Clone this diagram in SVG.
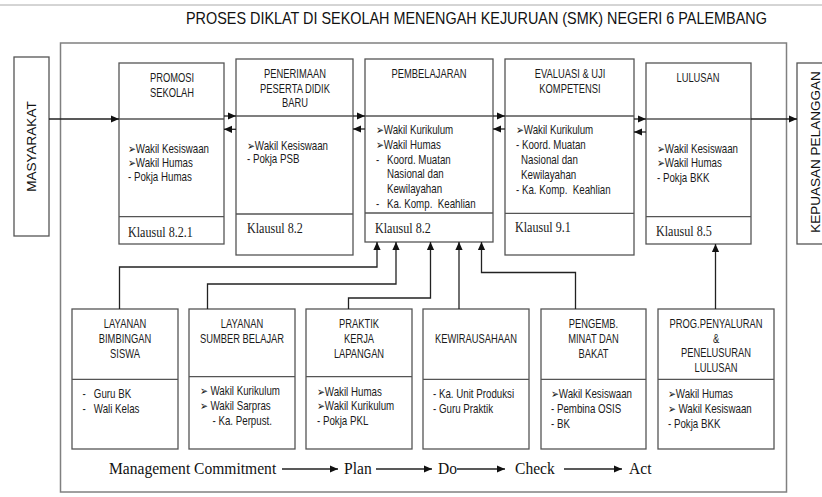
<svg xmlns="http://www.w3.org/2000/svg" width="822" height="497" viewBox="0 0 822 497">
<style>
.box{fill:#fff;stroke:#555;stroke-width:1.3}
.dv{stroke:#555;stroke-width:1.3}
.outer{fill:none;stroke:#808080;stroke-width:1.5}
.ln{fill:none;stroke:#222;stroke-width:1.3}
.s{font-family:"Liberation Sans",Arial,sans-serif;font-size:12px;fill:#1a1a1a}
.b{font-size:12.5px}
.c{text-anchor:middle}
.k{font-family:"Liberation Serif","Times New Roman",serif;font-size:13.6px;fill:#1a1a1a}
.f{font-family:"Liberation Serif","Times New Roman",serif;font-size:17.5px;fill:#111}
.v{font-family:"Liberation Sans",Arial,sans-serif;font-size:13.5px;fill:#111;text-anchor:middle}
.ttl{font-family:"Liberation Sans",Arial,sans-serif;font-size:16px;fill:#111}
</style>
<defs>
<marker id="ah" viewBox="0 0 10 10" refX="10" refY="5" markerWidth="8" markerHeight="8" markerUnits="userSpaceOnUse" orient="auto"><path d="M0,0.5 L10,5 L0,9.5z" fill="#111"/></marker>
</defs>
<rect width="822" height="497" fill="#fff"/>
<line x1="0" y1="5" x2="822" y2="5" stroke="#aaa" stroke-width="1"/>
<text class="ttl" transform="translate(186,24) scale(.9,1)">PROSES DIKLAT DI SEKOLAH MENENGAH KEJURUAN (SMK) NEGERI 6 PALEMBANG</text>
<rect class="outer" x="60.5" y="43" width="726" height="449"/>

<g id="masyarakat">
<rect class="box" x="14" y="57" width="35" height="179"/>
<text class="v" transform="translate(36,146.5) rotate(-90)">MASYARAKAT</text>
</g>
<g id="kepuasan">
<rect class="box" x="797" y="63" width="40" height="181"/>
<text class="v" transform="translate(820,152) rotate(-90)">KEPUASAN PELANGGAN</text>
</g>

<g id="promosi">
<rect class="box" x="119" y="63" width="105" height="181"/>
<line class="dv" x1="119" y1="119" x2="224" y2="119"/>
<line class="dv" x1="119" y1="216.7" x2="224" y2="216.7"/>
<text class="s c" transform="translate(172,82) scale(.78,1)"><tspan x="0">PROMOSI</tspan><tspan x="0" dy="15">SEKOLAH</tspan></text>
<text class="s b" transform="translate(128,152.5) scale(.78,1)"><tspan x="0">➢Wakil Kesiswaan</tspan><tspan x="0" dy="14.5">➢Wakil Humas</tspan><tspan x="0" dy="14.5">- Pokja Humas</tspan></text>
<text class="k" transform="translate(128,237) scale(.89,1)">Klausul 8.2.1</text>
</g>

<g id="penerimaan">
<rect class="box" x="236" y="59" width="117" height="196"/>
<line class="dv" x1="236" y1="116" x2="353" y2="116"/>
<line class="dv" x1="236" y1="214" x2="353" y2="214"/>
<text class="s c" transform="translate(295,78) scale(.78,1)"><tspan x="0">PENERIMAAN</tspan><tspan x="0" dy="14.7">PESERTA DIDIK</tspan><tspan x="0" dy="14.7">BARU</tspan></text>
<text class="s b" transform="translate(247,150) scale(.78,1)"><tspan x="0">➢Wakil Kesiswaan</tspan><tspan x="0" dy="13.5">- Pokja PSB</tspan></text>
<text class="k" transform="translate(247,232.5) scale(.89,1)">Klausul 8.2</text>
</g>

<g id="pembelajaran">
<rect class="box" x="365" y="59" width="128" height="183"/>
<line class="dv" x1="365" y1="116" x2="493" y2="116"/>
<line class="dv" x1="365" y1="213" x2="493" y2="213"/>
<text class="s c" transform="translate(429,78) scale(.78,1)">PEMBELAJARAN</text>
<text class="s b" transform="translate(376,134) scale(.78,1)"><tspan x="0">➢Wakil Kurikulum</tspan><tspan x="0" dy="14.8">➢Wakil Humas</tspan><tspan x="0" dy="14.8">-</tspan><tspan x="14">Koord. Muatan</tspan><tspan x="14" dy="14.8">Nasional dan</tspan><tspan x="14" dy="14.8">Kewilayahan</tspan><tspan x="0" dy="14.8">-</tspan><tspan x="14">Ka. Komp.&#160; Keahlian</tspan></text>
<text class="k" transform="translate(375,232.5) scale(.89,1)">Klausul 8.2</text>
</g>

<g id="evaluasi">
<rect class="box" x="505" y="59" width="129" height="196"/>
<line class="dv" x1="505" y1="116" x2="634" y2="116"/>
<line class="dv" x1="505" y1="213.3" x2="634" y2="213.3"/>
<text class="s c" transform="translate(570,78) scale(.78,1)"><tspan x="0">EVALUASI &amp; UJI</tspan><tspan x="0" dy="15">KOMPETENSI</tspan></text>
<text class="s b" transform="translate(516,134) scale(.78,1)"><tspan x="0">➢Wakil Kurikulum</tspan><tspan x="0" dy="15">- Koord. Muatan</tspan><tspan x="6.5" dy="15">Nasional dan</tspan><tspan x="6.5" dy="15">Kewilayahan</tspan><tspan x="0" dy="15">- Ka. Komp.&#160; Keahlian</tspan></text>
<text class="k" transform="translate(515,232) scale(.89,1)">Klausul 9.1</text>
</g>

<g id="lulusan">
<rect class="box" x="646" y="63" width="105" height="181"/>
<line class="dv" x1="646" y1="119" x2="751" y2="119"/>
<line class="dv" x1="646" y1="216.7" x2="751" y2="216.7"/>
<text class="s c" transform="translate(698,81.5) scale(.78,1)">LULUSAN</text>
<text class="s b" transform="translate(657,152.5) scale(.78,1)"><tspan x="0">➢Wakil Kesiswaan</tspan><tspan x="0" dy="14.7">➢Wakil Humas</tspan><tspan x="0" dy="14.7">- Pokja BKK</tspan></text>
<text class="k" transform="translate(656,236) scale(.89,1)">Klausul 8.5</text>
</g>

<g id="bimbingan">
<rect class="box" x="72" y="309" width="106" height="140"/>
<line class="dv" x1="72" y1="379.3" x2="178" y2="379.3"/>
<text class="s c" transform="translate(125,328) scale(.78,1)"><tspan x="0">LAYANAN</tspan><tspan x="0" dy="15">BIMBINGAN</tspan><tspan x="0" dy="15">SISWA</tspan></text>
<text class="s b" transform="translate(82.5,398) scale(.78,1)"><tspan x="0">-</tspan><tspan x="14.5">Guru BK</tspan><tspan x="0" dy="15">-</tspan><tspan x="14.5">Wali Kelas</tspan></text>
</g>

<g id="sumber">
<rect class="box" x="189" y="309" width="106" height="140"/>
<line class="dv" x1="189" y1="376.7" x2="295" y2="376.7"/>
<text class="s c" transform="translate(242,328) scale(.78,1)"><tspan x="0">LAYANAN</tspan><tspan x="0" dy="15">SUMBER BELAJAR</tspan></text>
<text class="s b" transform="translate(200,395) scale(.78,1)"><tspan x="0">➢ Wakil Kurikulum</tspan><tspan x="0" dy="14.7">➢ Wakil Sarpras</tspan><tspan x="16" dy="15.5">- Ka. Perpust.</tspan></text>
</g>

<g id="praktik">
<rect class="box" x="306" y="309" width="106" height="140"/>
<line class="dv" x1="306" y1="376.7" x2="412" y2="376.7"/>
<text class="s c" transform="translate(359,328) scale(.78,1)"><tspan x="0">PRAKTIK</tspan><tspan x="0" dy="15">KERJA</tspan><tspan x="0" dy="15">LAPANGAN</tspan></text>
<text class="s b" transform="translate(317,395.5) scale(.78,1)"><tspan x="0">➢Wakil Humas</tspan><tspan x="0" dy="14.7">➢Wakil Kurikulum</tspan><tspan x="0" dy="14.7">- Pokja PKL</tspan></text>
</g>

<g id="kewirausahaan">
<rect class="box" x="423" y="309" width="106" height="140"/>
<line class="dv" x1="423" y1="379.3" x2="529" y2="379.3"/>
<text class="s c" transform="translate(476,343) scale(.78,1)">KEWIRAUSAHAAN</text>
<text class="s b" transform="translate(433,398.3) scale(.78,1)"><tspan x="0">- Ka. Unit Produksi</tspan><tspan x="0" dy="15">- Guru Praktik</tspan></text>
</g>

<g id="pengembangan">
<rect class="box" x="541" y="309" width="105" height="140"/>
<line class="dv" x1="541" y1="379.3" x2="646" y2="379.3"/>
<text class="s c" transform="translate(593.5,328) scale(.78,1)"><tspan x="0">PENGEMB.</tspan><tspan x="0" dy="15">MINAT DAN</tspan><tspan x="0" dy="15">BAKAT</tspan></text>
<text class="s b" transform="translate(551,398.3) scale(.78,1)"><tspan x="0">➢Wakil Kesiswaan</tspan><tspan x="0" dy="14.8">- Pembina OSIS</tspan><tspan x="0" dy="14.8">- BK</tspan></text>
</g>

<g id="penyaluran">
<rect class="box" x="658" y="309" width="116" height="140"/>
<line class="dv" x1="658" y1="379.3" x2="774" y2="379.3"/>
<text class="s c" transform="translate(716,328) scale(.78,1)"><tspan x="0">PROG.PENYALURAN</tspan><tspan x="0" dy="14.7">&amp;</tspan><tspan x="0" dy="14.7">PENELUSURAN</tspan><tspan x="0" dy="14.7">LULUSAN</tspan></text>
<text class="s b" transform="translate(668,398.3) scale(.78,1)"><tspan x="0">➢Wakil Humas</tspan><tspan x="0" dy="14.8">➢ Wakil Kesiswaan</tspan><tspan x="0" dy="14.8">- Pokja BKK</tspan></text>
</g>

<g id="connectors" class="ln" marker-end="url(#ah)">
<path d="M49,119 H119"/>
<path d="M224,116 H236"/>
<path d="M353,116 H365"/>
<path d="M493,116 H505"/>
<path d="M634,119 H646"/>
<path d="M751,119 H797"/>
<path d="M236,129.3 H224"/>
<path d="M365,129 H353"/>
<path d="M505,129 H493"/>
<path d="M646,132 H634"/>
<path d="M119.5,309 V267 H377 V242"/>
<path d="M207.5,309 V284 H396 V242"/>
<path d="M348.5,309 V298 H430.5 V242"/>
<path d="M459,309 V242"/>
<path d="M575.5,309 V272.5 H481.5 V242"/>
<path d="M715.5,309 V244"/>
<path d="M282,469 H338"/>
<path d="M376,469 H432"/>
<path d="M457,469 H505"/>
<path d="M564,469 H622"/>
</g>

<g id="pdca">
<text class="f" transform="translate(109,474) scale(.89,1)">Management Commitment</text>
<text class="f" transform="translate(344,474) scale(.89,1)">Plan</text>
<text class="f" transform="translate(438,474) scale(.89,1)">Do</text>
<text class="f" transform="translate(515,474) scale(.89,1)">Check</text>
<text class="f" transform="translate(629,474) scale(.89,1)">Act</text>
</g>
</svg>
